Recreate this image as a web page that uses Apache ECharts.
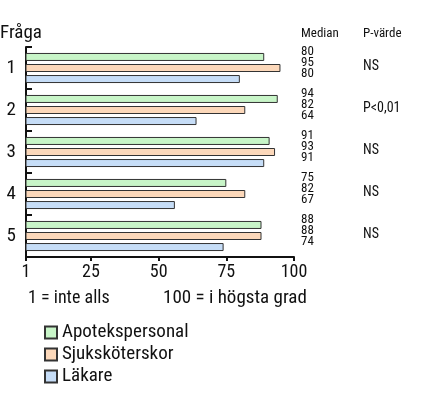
<!DOCTYPE html>
<html><head><meta charset="utf-8">
<script src="https://cdn.jsdelivr.net/npm/echarts@6/dist/echarts.min.js"></script>
<style>html,body{margin:0;padding:0;background:#fff}#c{width:425px;height:393px}</style>
</head><body><div id="c"></div>
<script>
const categories = ['1','2','3','4','5'];
const seriesNames = ['Apotekspersonal','Sjuksköterskor','Läkare'];
const apotek = [89,94,91,75,88];
const sjuk = [95,82,93,82,88];
const lakare = [80,64,89,56,74];
const medianApotek = [80,94,91,75,88];
const medianSjuk = [95,82,93,82,88];
const medianLakare = [80,64,91,67,74];
const pValues = ['NS','P<0,01','NS','NS','NS'];
const xTicks = [1,25,50,75,100];

const FONT = "'Roboto Condensed','DejaVu Sans Condensed',sans-serif";
const colors = ['#c8f5c8','#fcd8ba','#c6ddf7'];
const chart = echarts.init(document.getElementById('c'));
const mk = (name, data, i) => ({
  name, type:'bar', data, barWidth:8, barGap:'38%',
  itemStyle:{color:colors[i], borderColor:'#333', borderWidth:1},
  animation:false
});
chart.setOption({
  animation:false,
  textStyle:{fontFamily:FONT},
  grid:{left:26, right:131, top:47, bottom:136},
  xAxis:{type:'value', min:1, max:100,
    axisLine:{show:true, lineStyle:{color:'#111', width:2}},
    axisTick:{show:true, length:4, customValues:xTicks, lineStyle:{color:'#111', width:2}},
    axisLabel:{customValues:xTicks, fontSize:18, color:'#111', margin:6, fontFamily:FONT},
    splitLine:{show:false}},
  yAxis:{type:'category', data:categories, inverse:true,
    axisLine:{show:true, lineStyle:{color:'#111', width:2}},
    axisTick:{show:true, inside:true, length:6, lineStyle:{color:'#111', width:2}},
    axisLabel:{fontSize:19, color:'#111', margin:10, fontFamily:FONT}},
  legend:{orient:'vertical', left:44, top:323, height:90, padding:0, itemWidth:12, itemHeight:12, itemGap:3,
    icon:'rect', textStyle:{fontSize:19, color:'#111', fontFamily:FONT},
    data:seriesNames},
  series:[mk(seriesNames[0], apotek, 0), mk(seriesNames[1], sjuk, 1), mk(seriesNames[2], lakare, 2)]
});
const extra = [
  {type:'text', left:0, top:24, style:{text:'Fråga', fontSize:19, fill:'#111', fontFamily:FONT}},
  {type:'text', left:301, top:27, style:{text:'Median', fontSize:13, fill:'#111', fontFamily:FONT}},
  {type:'text', left:363, top:27, style:{text:'P-värde', fontSize:13, fill:'#111', fontFamily:FONT}},
  {type:'text', left:28, top:289, style:{text:'1 = inte alls', fontSize:18, fill:'#111', fontFamily:FONT}},
  {type:'text', left:163, top:289, style:{text:'100 = i högsta grad', fontSize:19, fill:'#111', fontFamily:FONT}}
];
categories.forEach((c, k) => {
  const yc = chart.convertToPixel({yAxisIndex:0}, c);
  const meds = [medianApotek[k], medianSjuk[k], medianLakare[k]];
  meds.forEach((m, i) => {
    extra.push({type:'text', x:301, y:yc - 5 + (i-1)*11,
      style:{text:String(m), fontSize:13, fill:'#111', fontFamily:FONT, verticalAlign:'middle'}});
  });
  extra.push({type:'text', x:363, y:yc - 1.5,
    style:{text:pValues[k], fontSize:14, fill:'#111', fontFamily:FONT, verticalAlign:'middle'}});
});
chart.setOption({graphic: extra});
</script></body></html>
